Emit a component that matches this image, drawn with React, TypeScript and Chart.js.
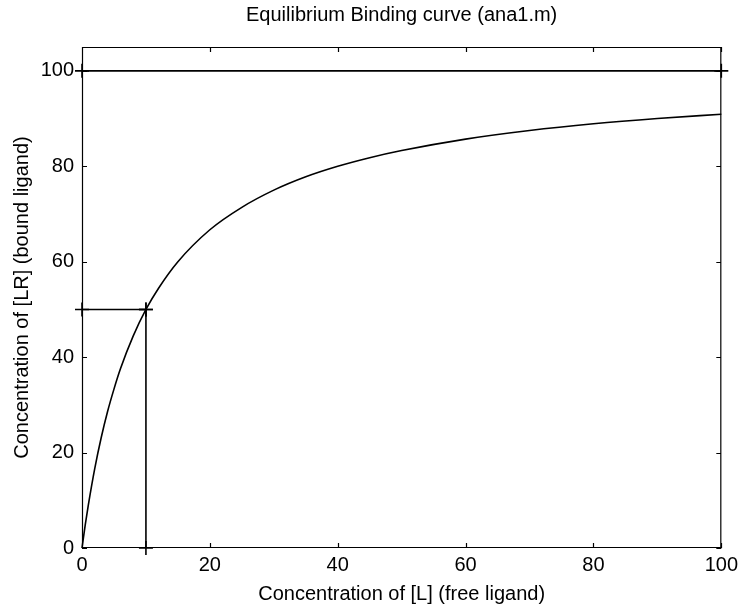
import React, { useEffect, useRef } from "react";
import { Chart, registerables } from "chart.js";

Chart.register(...registerables);

const TITLE = "Equilibrium Binding curve (ana1.m)";
const X_LABEL = "Concentration of [L] (free ligand)";
const Y_LABEL = "Concentration of [LR] (bound ligand)";

const curveX = [0, 0.5, 1, 2, 3, 4, 5, 6, 8, 10, 12, 15, 20, 25, 30, 35, 40, 45, 50, 60, 70, 80, 90, 100];
const curveY = [0, 4.8, 9.1, 16.7, 23.1, 28.6, 33.3, 37.5, 44.4, 50, 54.5, 60, 66.7, 71.4, 75, 77.8, 80, 81.8, 83.3, 85.7, 87.5, 88.9, 90, 90.9];

const maxLineX = [0, 100];
const maxLineY = [100, 100];
const halfHX = [0, 10];
const halfHY = [50, 50];
const halfVX = [10, 10];
const halfVY = [0, 50];

const xTicks = [0, 20, 40, 60, 80, 100];
const yTicks = [0, 20, 40, 60, 80, 100];

const FONT = "'Liberation Sans', Arial, Helvetica, sans-serif";
const FS = 20;

const frame = {
  id: "frame",
  afterDatasetsDraw(chart: any) {
    const { ctx, chartArea: a, scales } = chart;
    ctx.save();
    ctx.strokeStyle = "#000";
    ctx.lineWidth = 1.2;
    ctx.beginPath();
    ctx.rect(a.left + 0.5, a.top + 0.5, a.right - a.left - 1, a.bottom - a.top - 1);
    const L = 5;
    for (const v of xTicks) {
      const px = Math.round(scales.x.getPixelForValue(v)) + 0.5;
      ctx.moveTo(px, a.bottom);
      ctx.lineTo(px, a.bottom - L);
      ctx.moveTo(px, a.top);
      ctx.lineTo(px, a.top + L);
    }
    for (const v of yTicks) {
      const py = Math.round(scales.y.getPixelForValue(v)) + 0.5;
      ctx.moveTo(a.left, py);
      ctx.lineTo(a.left + L, py);
      ctx.moveTo(a.right, py);
      ctx.lineTo(a.right - L, py);
    }
    ctx.stroke();
    ctx.restore();
  },
};

function pts(xs: number[], ys: number[]) {
  return xs.map((x, i) => ({ x, y: ys[i] }));
}

export default function App() {
  const ref = useRef<HTMLCanvasElement | null>(null);
  useEffect(() => {
    if (!ref.current) return;
    const lineBase = {
      borderColor: "#000",
      borderWidth: 1.6,
      backgroundColor: "#000",
      fill: false,
    };
    const marker = {
      pointStyle: "cross",
      pointRadius: 7,
      pointBorderWidth: 1.6,
      pointBorderColor: "#000",
    };
    const chart = new Chart(ref.current, {
      type: "scatter",
      data: {
        datasets: [
          {
            ...lineBase,
            data: pts(curveX, curveY),
            showLine: true,
            pointRadius: 0,
            cubicInterpolationMode: "monotone",
          },
          { ...lineBase, ...marker, data: pts(maxLineX, maxLineY), showLine: true },
          { ...lineBase, ...marker, data: pts(halfHX, halfHY), showLine: true },
          { ...lineBase, ...marker, data: pts(halfVX, halfVY), showLine: true },
        ] as any,
      },
      options: {
        animation: false,
        responsive: false,
        clip: false as any,
        layout: { padding: { top: 0, right: 20, bottom: 0, left: 0 } },
        plugins: {
          legend: { display: false },
          tooltip: { enabled: false },
          title: {
            display: true,
            fullSize: false,
            text: TITLE,
            color: "#000",
            font: { family: FONT, size: FS, weight: "normal", lineHeight: 1.2 },
            padding: { top: 3, bottom: 20 },
          },
        },
        scales: {
          x: {
            type: "linear",
            min: 0,
            max: 100,
            afterFit(s: any) { s.height = 58; },
            afterBuildTicks(s: any) { s.ticks = xTicks.map((v) => ({ value: v })); },
            grid: { display: false, drawTicks: false },
            border: { display: false },
            ticks: {
              color: "#000",
              padding: 5,
              maxRotation: 0,
              font: { family: FONT, size: FS, lineHeight: 1.2 },
            },
            title: {
              display: true,
              text: X_LABEL,
              color: "#000",
              font: { family: FONT, size: FS, lineHeight: 1.2 },
              padding: { top: 0, bottom: 0 },
            },
          },
          y: {
            type: "linear",
            min: 0,
            max: 105,
            afterFit(s: any) { s.width = 82; },
            afterBuildTicks(s: any) { s.ticks = yTicks.map((v) => ({ value: v })); },
            grid: { display: false, drawTicks: false },
            border: { display: false },
            ticks: {
              color: "#000",
              padding: 8,
              font: { family: FONT, size: FS, lineHeight: 1.2 },
            },
            title: {
              display: true,
              text: Y_LABEL,
              color: "#000",
              font: { family: FONT, size: FS, lineHeight: 1.2 },
              padding: { top: 10, bottom: 0 },
            },
          },
        },
      } as any,
      plugins: [frame],
    });
    return () => chart.destroy();
  }, []);
  return (
    <div style={{ position: "fixed", left: 0, top: 0, width: 743, height: 606, background: "#fff" }}>
      <canvas ref={ref} width={743} height={606} style={{ width: 743, height: 606 }} />
    </div>
  );
}
